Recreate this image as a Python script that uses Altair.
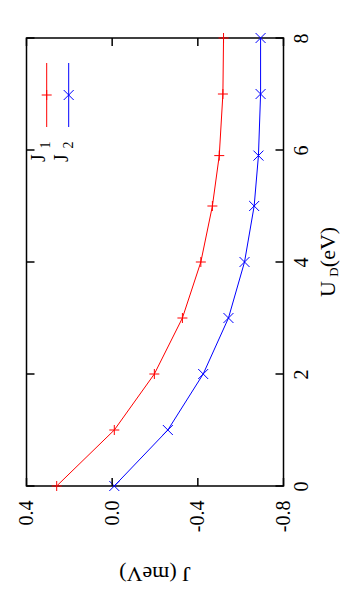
import altair as alt
import pandas as pd

# ---- data ----
U_D = [0, 1, 2, 3, 4, 5, 5.9, 7, 8]
J1 = [0.259, -0.01, -0.197, -0.328, -0.414, -0.468, -0.50, -0.517, -0.52]
J2 = [-0.01, -0.26, -0.425, -0.543, -0.618, -0.663, -0.683, -0.693, -0.693]
SERIES = ["J1", "J2"]
COLORS = ["#ff0000", "#0000ff"]
X_TICKS = [0.4, 0.0, -0.4, -0.8]
Y_TICKS = [0, 2, 4, 6, 8]
X_TITLE = "J (meV)"
Y_TITLE_MAIN = "U"
Y_TITLE_SUB = "D"
Y_TITLE_UNIT = "(eV)"
LEGEND_MAIN = ["J", "J"]
LEGEND_SUB = ["1", "2"]

FONT = "Liberation Serif"
W, H = 257, 448
PLUS = "M-1,0L1,0M0,-1L0,1"
CROSS = "M-1,-1L1,1M-1,1L1,-1"

df = pd.DataFrame({
    "U": U_D + U_D,
    "J": J1 + J2,
    "series": [SERIES[0]] * len(U_D) + [SERIES[1]] * len(U_D),
})
xt = pd.DataFrame({"J": X_TICKS})
yt = pd.DataFrame({"U": Y_TICKS})
one = pd.DataFrame({"a": [0]})

xscale = alt.Scale(domain=[-0.8, 0.4], reverse=True, nice=False, zero=False)
yscale = alt.Scale(domain=[0, 8], nice=False, zero=False)

xaxis = alt.Axis(
    values=X_TICKS,
    labelExpr="datum.value < 0 ? '-' + format(-datum.value, '.1f') : format(datum.value, '.1f')",
    labelAngle=270, labelAlign="right", labelBaseline="middle", labelPadding=14,
    ticks=False, tickSize=0, domain=False, grid=False, title=None,
    labelFont=FONT, labelFontSize=20, labelColor="black",
    labelFlush=False, labelOverlap=False,
)
yaxis = alt.Axis(
    orient="right", values=Y_TICKS, format="d",
    labelAngle=270, labelAlign="center", labelBaseline="top", labelPadding=8,
    ticks=False, tickSize=0, domain=False, grid=False, title=None,
    labelFont=FONT, labelFontSize=20, labelColor="black",
    labelFlush=False, labelOverlap=False,
)

X = alt.X("J:Q", scale=xscale, axis=xaxis)
Y = alt.Y("U:Q", scale=yscale, axis=yaxis)
color = alt.Color("series:N", scale=alt.Scale(domain=SERIES, range=COLORS), legend=None)
shape = alt.Shape("series:N", scale=alt.Scale(domain=SERIES, range=[PLUS, CROSS]), legend=None)

lines = alt.Chart(df).mark_line(strokeWidth=1, clip=False).encode(
    x=X, y=Y, color=color, order="U:Q", detail="series:N")
points = alt.Chart(df).mark_point(filled=False, size=100, strokeWidth=1, opacity=1).encode(
    x=X, y=Y, color=color, shape=shape)

tick_b = alt.Chart(xt).mark_rule(color="black", strokeWidth=1.5).encode(
    x=X, y=alt.value(H - 8), y2=alt.value(H))
tick_t = alt.Chart(xt).mark_rule(color="black", strokeWidth=1.5).encode(
    x=X, y=alt.value(0), y2=alt.value(8))
tick_l = alt.Chart(yt).mark_rule(color="black", strokeWidth=1.5).encode(
    y=Y, x=alt.value(0), x2=alt.value(8))
tick_r = alt.Chart(yt).mark_rule(color="black", strokeWidth=1.5).encode(
    y=Y, x=alt.value(W - 8), x2=alt.value(W))

def txt(s, x, y, angle, size, align="center", baseline="alphabetic"):
    return alt.Chart(one).mark_text(
        text=s, angle=angle, fontSize=size, font=FONT, color="black",
        align=align, baseline=baseline,
    ).encode(x=alt.value(x), y=alt.value(y))

titles = [
    txt(X_TITLE, W / 2, 536, 180, 22, baseline="middle"),
    txt(Y_TITLE_MAIN, 308.5, 251, 270, 22),
    txt(Y_TITLE_SUB, 311.5, 234, 270, 13),
    txt(Y_TITLE_UNIT, 308.5, 209, 270, 22),
]

legend_layers = []
for i, (lx, tx) in enumerate([(20.2, 18.5), (42.2, 41.5)]):
    legend_layers.append(
        alt.Chart(one).mark_rule(color=COLORS[i], strokeWidth=1).encode(
            x=alt.value(lx), y=alt.value(25), y2=alt.value(89)))
    legend_layers.append(
        alt.Chart(one).mark_point(filled=False, size=100, strokeWidth=1, opacity=1,
                                  color=COLORS[i], shape=[PLUS, CROSS][i]).encode(
            x=alt.value(lx), y=alt.value(57)))
    legend_layers.append(txt(LEGEND_MAIN[i], tx, 120, 270, 20))
    legend_layers.append(txt(LEGEND_SUB[i], tx + 5, 107, 270, 14))

chart = alt.layer(
    lines, points, tick_b, tick_t, tick_l, tick_r, *titles, *legend_layers
).properties(
    width=W, height=H,
    background="white",
    padding={"left": 18.5, "top": 30, "right": 58, "bottom": 100},
    autosize=alt.AutoSizeParams(type="none"),
).configure_view(stroke="black", strokeWidth=1.5)

chart.save("out.html", embed_options={"renderer": "svg", "actions": False})
